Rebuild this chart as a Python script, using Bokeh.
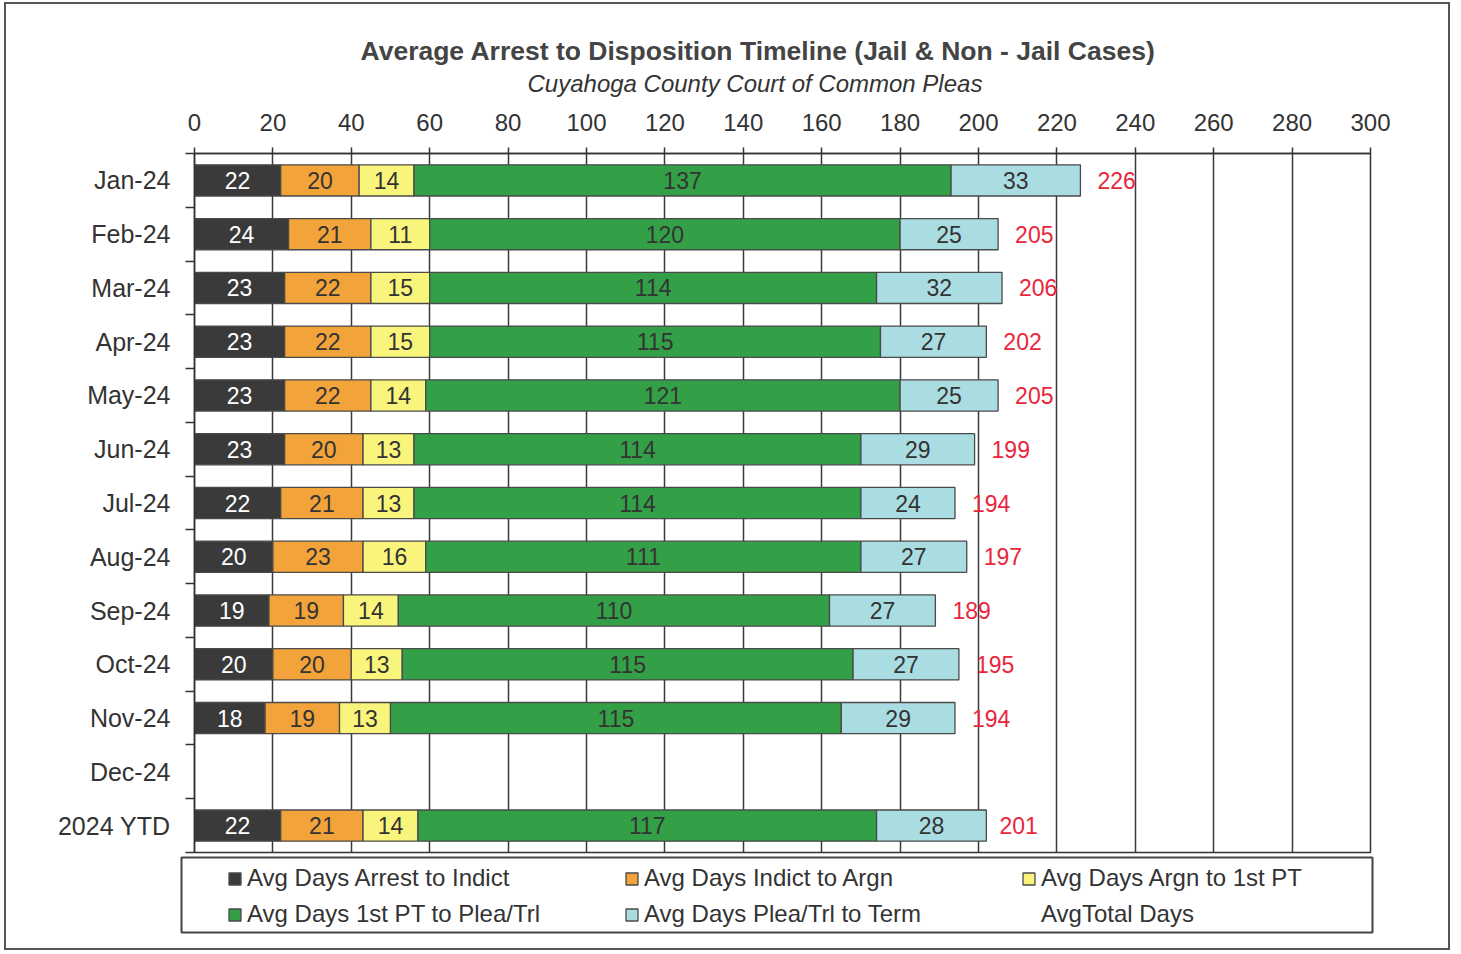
import numpy as np
from bokeh.plotting import figure
from bokeh.layouts import column, row
from bokeh.models import (ColumnDataSource, FixedTicker, SingleIntervalTicker, Range1d,
                          Legend, LegendItem, Title)
from bokeh.core.properties import value
from bokeh.embed import file_html
from bokeh.resources import INLINE

months = ["Jan-24", "Feb-24", "Mar-24", "Apr-24", "May-24", "Jun-24", "Jul-24",
          "Aug-24", "Sep-24", "Oct-24", "Nov-24", "Dec-24", "2024 YTD"]
arrest_to_indict = [22, 24, 23, 23, 23, 23, 22, 20, 19, 20, 18, None, 22]
indict_to_argn = [20, 21, 22, 22, 22, 20, 21, 23, 19, 20, 19, None, 21]
argn_to_1st_pt = [14, 15, 15, 15, 14, 13, 13, 16, 14, 13, 13, None, 14]
argn_to_1st_pt_shown = [14, 11, 15, 15, 14, 13, 13, 16, 14, 13, 13, None, 14]
pt_to_plea_trl = [137, 120, 114, 115, 121, 114, 114, 111, 110, 115, 115, None, 117]
plea_trl_to_term = [33, 25, 32, 27, 25, 29, 24, 27, 27, 27, 29, None, 28]
avg_total_days = [226, 205, 206, 202, 205, 199, 194, 197, 189, 195, 194, None, 201]

series_names = ["Avg Days Arrest to Indict", "Avg Days Indict to Argn", "Avg Days Argn to 1st PT",
                "Avg Days 1st PT to Plea/Trl", "Avg Days Plea/Trl to Term"]
total_name = "AvgTotal Days"
series_vals = [arrest_to_indict, indict_to_argn, argn_to_1st_pt, pt_to_plea_trl, plea_trl_to_term]
series_shown = [arrest_to_indict, indict_to_argn, argn_to_1st_pt_shown, pt_to_plea_trl, plea_trl_to_term]
colors = ["#3a3a3a", "#f2a33a", "#f9f57c", "#33a047", "#aadde2"]
text_colors = ["#ffffff", "#333333", "#333333", "#333333", "#333333"]

FONT = "Liberation Sans"
n = len(months)
ycent = np.arange(n) + 0.5

p = figure(width=1442, height=851, x_range=Range1d(0, 300), y_range=Range1d(n, 0),
           x_axis_location="above", output_backend="svg", toolbar_location=None,
           min_border_left=188, min_border_right=78, min_border_top=149, min_border_bottom=3,
           background_fill_color="white", border_fill_color="white")

p.outline_line_color = "#333333"
p.outline_line_width = 1.5

# x axis on top
p.xaxis.ticker = SingleIntervalTicker(interval=20, num_minor_ticks=0)
p.xaxis.major_tick_out = 6
p.xaxis.major_tick_in = 0
p.xaxis.minor_tick_out = 0
p.xaxis.major_label_standoff = 17
p.xaxis.major_label_text_font = FONT
p.xaxis.major_label_text_font_size = "24px"
p.xaxis.major_label_text_color = "#333333"
p.xaxis.axis_line_color = "#333333"
p.xaxis.axis_line_width = 1.5
p.xaxis.major_tick_line_color = "#333333"
p.xaxis.major_tick_line_width = 1.5

p.xgrid.ticker = SingleIntervalTicker(interval=20, num_minor_ticks=0)
p.xgrid.grid_line_color = "#3a3a3a"
p.xgrid.grid_line_width = 1.5
p.ygrid.visible = False

# y axis: labels at row centers, tick marks at row boundaries
p.yaxis.ticker = FixedTicker(ticks=list(ycent), minor_ticks=list(np.arange(n + 1)))
p.yaxis.major_label_overrides = {float(c): m for c, m in zip(ycent, months)}
p.yaxis.major_tick_out = 0
p.yaxis.major_tick_in = 0
p.yaxis.minor_tick_out = 9
p.yaxis.minor_tick_in = 0
p.yaxis.minor_tick_line_color = "#333333"
p.yaxis.minor_tick_line_width = 1.5
p.yaxis.major_label_standoff = 15
p.yaxis.major_label_text_font = FONT
p.yaxis.major_label_text_font_size = "25px"
p.yaxis.major_label_text_color = "#333333"
p.yaxis.axis_line_color = "#333333"
p.yaxis.axis_line_width = 1.5

vals = np.array(series_vals, dtype=float)
lefts = np.vstack([np.zeros(n), np.cumsum(vals, axis=0)[:-1]])
rights = lefts + vals
valid = ~np.isnan(vals[0])

bar_sources = []
for k in range(len(series_vals)):
    src = ColumnDataSource(dict(y=ycent[valid], left=lefts[k][valid], right=rights[k][valid]))
    bar_sources.append(src)
    p.hbar(y="y", left="left", right="right", height=0.58, source=src,
           fill_color=colors[k], line_color="#4a4a4a", line_width=1.3)
    shown = [str(s) for s, ok in zip(series_shown[k], valid) if ok]
    tsrc = ColumnDataSource(dict(x=(lefts[k][valid] + rights[k][valid]) / 2, y=ycent[valid], t=shown))
    p.text(x="x", y="y", text="t", source=tsrc, text_align="center", text_baseline="middle",
           text_color=text_colors[k], text_font=value(FONT), text_font_size=value("23px"))

tot = np.array(avg_total_days, dtype=float)
tot_src = ColumnDataSource(dict(x=tot[valid], y=ycent[valid],
                                t=[str(int(v)) for v in tot[valid]]))
p.text(x="x", y="y", text="t", source=tot_src, x_offset=17, text_align="left",
       text_baseline="middle", text_color="#e8263c", text_font=value(FONT),
       text_font_size=value("23px"))

# titles (first added sits closest to the plot)
p.add_layout(Title(text="Cuyahoga County Court of Common Pleas", align="left", offset=333,
                   text_font=FONT, text_font_style="italic", text_font_size="24px",
                   text_color="#333333", standoff=27), "above")
p.add_layout(Title(text="Average Arrest to Disposition  Timeline (Jail & Non - Jail Cases)",
                   align="left", offset=166, text_font=FONT, text_font_style="bold",
                   text_font_size="26.5px", text_color="#444444", standoff=-22), "above")

# legend panel: its frame outline is the legend box; the ranges keep the
# shared bar sources out of view so only the legend swatches show
p2 = figure(width=1442, height=93, x_range=Range1d(-2, -1), y_range=Range1d(-2, -1),
            x_axis_type=None, y_axis_type=None, output_backend="svg", toolbar_location=None,
            min_border_left=175, min_border_right=76, min_border_top=2, min_border_bottom=16,
            background_fill_color="white", border_fill_color="white")
p2.grid.visible = False
p2.outline_line_color = "#444444"
p2.outline_line_width = 2

sw = []
for k in range(len(series_vals)):
    sw.append(p2.hbar(y="y", left="left", right="right", height=0.58, source=bar_sources[k],
                      fill_color=colors[k], line_color="#4a4a4a", line_width=1.3))
blank = p2.text(x="x", y="y", text="t", source=tot_src, text_alpha=0)
items = [LegendItem(label=nm, renderers=[r]) for nm, r in zip(series_names, sw)]
items.append(LegendItem(label=total_name, renderers=[blank]))
legend = Legend(items=items, ncols=3, orientation="horizontal", location=(46, 4),
                glyph_width=15, glyph_height=15, label_standoff=5, label_width=369,
                label_height=26, spacing=8, padding=0, margin=0,
                border_line_alpha=0, background_fill_alpha=0,
                label_text_font=FONT, label_text_font_size="24px", label_text_color="#333333")
p2.add_layout(legend, "center")

layout = column(p, row(p2), spacing=0,
                styles={"border": "2px solid #555555", "margin-left": "4px", "margin-top": "2px"})

open("out.html", "w").write(file_html(layout, INLINE))
